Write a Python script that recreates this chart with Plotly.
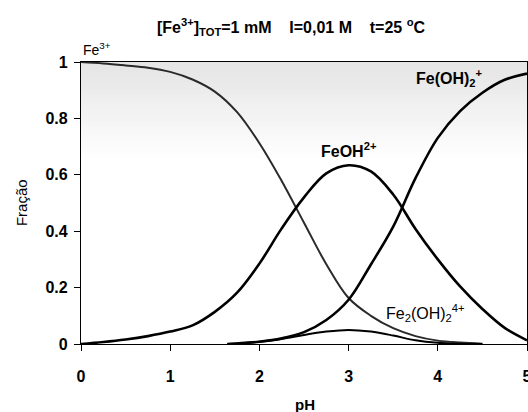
import plotly.graph_objects as go

# Speciation of Fe(III) vs pH: fraction of each species
ph = [0.0, 0.25, 0.5, 0.75, 1.0, 1.25, 1.5, 1.75, 2.0, 2.25, 2.5,
      2.75, 3.0, 3.25, 3.5, 3.75, 4.0, 4.25, 4.5, 4.75, 5.0]

fe3 = [1.0, 0.995, 0.988, 0.980, 0.965, 0.938, 0.895, 0.822, 0.712, 0.578, 0.43,
       0.283, 0.163, 0.100, 0.056, 0.028, 0.012, 0.005, 0.001]

feoh = [0.0, 0.007, 0.016, 0.028, 0.044, 0.066, 0.114, 0.182, 0.285, 0.41, 0.52,
        0.605, 0.634, 0.612, 0.53, 0.408, 0.30, 0.204, 0.124, 0.057, 0.013]

ph_high = [1.64, 1.75, 2.0, 2.25, 2.5, 2.75, 3.0, 3.25, 3.5, 3.75, 4.0, 4.25, 4.5, 4.75, 5.0]
feoh2 = [0.0, 0.002, 0.008, 0.02, 0.042, 0.085, 0.157, 0.282, 0.416, 0.588, 0.731, 0.826,
         0.891, 0.937, 0.959]
fe2oh2 = [0.0, 0.002, 0.008, 0.018, 0.032, 0.044, 0.050, 0.044, 0.030, 0.013, 0.004, 0.001, 0.0]

x_ticks = [0, 1, 2, 3, 4, 5]
y_ticks = [0, 0.2, 0.4, 0.6, 0.8, 1]
y_ticktext = ["0", "0.2", "0.4", "0.6", "0.8", "1"]

FONT = "Liberation Sans, Arial, sans-serif"

fig = go.Figure()
fig.add_trace(go.Scatter(x=ph[:len(fe3)], y=fe3, mode="lines", line=dict(color="#2a2a2a", width=2, shape="spline")))
fig.add_trace(go.Scatter(x=ph, y=feoh, mode="lines", line=dict(color="black", width=2.6, shape="spline")))
fig.add_trace(go.Scatter(x=ph_high, y=feoh2, mode="lines", line=dict(color="black", width=2.6, shape="spline")))
fig.add_trace(go.Scatter(x=ph_high[:len(fe2oh2)], y=fe2oh2, mode="lines", line=dict(color="black", width=2, shape="spline")))

# soft grey gradient across the upper part of the plotting area
steps = 24
y_lo, y_hi = 0.66, 1.0
for i in range(steps):
    t = (i + 0.5) / steps
    c = int(round(255 - (255 - 228) * t))
    y0 = y_lo + (y_hi - y_lo) * i / steps
    y1 = y_lo + (y_hi - y_lo) * (i + 1) / steps
    fig.add_shape(type="rect", xref="x domain", yref="y", x0=0, x1=1, y0=y0, y1=y1,
                  fillcolor=f"rgb({c},{c},{c})", line=dict(width=0), layer="below")


def bold(size):
    return dict(family=FONT, size=size, color="black", weight="bold")


def plain(size):
    return dict(family=FONT, size=size, color="black")


sp = "\u00a0" * 4
annos = [
    dict(text=f"[Fe<sup>3+</sup>]<sub>TOT</sub>=1 mM{sp}I=0,01 M{sp}t=25 <sup>o</sup>C",
         xref="paper", yref="paper", x=0.471, y=1.123, font=bold(16)),
    dict(text="Fe<sup>3+</sup>", xref="x", yref="paper", x=0.0, y=1.045, xanchor="left",
         font=plain(14)),
    dict(text="FeOH<sup>2+</sup>", xref="x", yref="y", x=3.01, y=0.687, font=bold(16)),
    dict(text="Fe(OH)<sub>2</sub><sup>+</sup>", xref="x", yref="y", x=4.13, y=0.942, font=bold(16)),
    dict(text="Fe<sub>2</sub>(OH)<sub>2</sub><sup>4+</sup>", xref="x", yref="y", x=3.86, y=0.111,
         font=plain(16)),
    dict(text="Fração", xref="paper", yref="paper", x=(21 - 81) / 446, y=(344.2 - 203) / 282.5,
         textangle=-90, font=plain(15)),
    dict(text="pH", xref="paper", yref="paper", x=(305 - 81) / 446, y=(344.2 - 405) / 282.5,
         font=bold(15)),
]
for a in annos:
    a.setdefault("showarrow", False)
    a.setdefault("xanchor", "center")
    a.setdefault("yanchor", "middle")
    fig.add_annotation(**a)

axis_common = dict(showline=True, linecolor="black", linewidth=1.3, mirror=True,
                   showgrid=False, zeroline=False, ticks="outside", ticklen=6,
                   tickcolor="black", tickfont=bold(16), ticklabeloverflow="allow",
                   automargin=False)
fig.update_xaxes(range=[0, 5], tickvals=x_ticks, ticklabelstandoff=12, **axis_common)
fig.update_yaxes(range=[0, 1], tickvals=y_ticks, ticktext=y_ticktext, ticklabelstandoff=3,
                 **axis_common)

fig.update_layout(width=528, height=412, margin=dict(l=81, r=1, t=62, b=68),
                  paper_bgcolor="white", plot_bgcolor="white", showlegend=False)

fig.write_html("out.html")
